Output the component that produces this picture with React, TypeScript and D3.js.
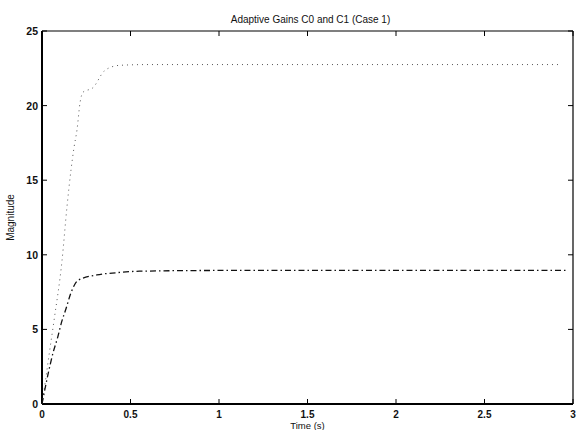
import React from "react";
import * as d3 from "d3";

const c0Time = [0, 0.02, 0.04, 0.068, 0.113, 0.141, 0.164, 0.181, 0.198, 0.215, 0.232, 0.288, 0.35, 0.395, 0.44, 0.6, 1, 1.5, 2, 2.5, 2.92];
const c0Values = [0, 1.6, 3.3, 5.6, 9.6, 13.2, 15.7, 17.2, 18.4, 20.2, 20.9, 21.2, 22.3, 22.6, 22.7, 22.75, 22.75, 22.75, 22.75, 22.75, 22.75];
const c1Time = [0, 0.036, 0.064, 0.087, 0.111, 0.136, 0.162, 0.205, 0.31, 0.42, 0.55, 1, 1.5, 2, 2.5, 2.97];
const c1Values = [0, 2.1, 3.5, 4.4, 5.5, 6.4, 7.4, 8.3, 8.65, 8.8, 8.9, 8.95, 8.95, 8.95, 8.95, 8.95];
const xTicks = [0, 0.5, 1, 1.5, 2, 2.5, 3];
const xTickLabels = ["0", "0.5", "1", "1.5", "2", "2.5", "3"];
const yTicks = [0, 5, 10, 15, 20, 25];
const yTickLabels = ["0", "5", "10", "15", "20", "25"];
const title = "Adaptive Gains C0 and C1 (Case 1)";
const xLabel = "Time (s)";
const yLabel = "Magnitude";

export default function App() {
  const W = 577, H = 430;
  const left = 42, right = 573, top = 31, bottom = 404;
  const x = d3.scaleLinear().domain([0, 3]).range([left, right]);
  const y = d3.scaleLinear().domain([0, 25]).range([bottom, top]);
  const line = d3.line<[number, number]>().x(d => x(d[0])).y(d => y(d[1])).curve(d3.curveMonotoneX);
  const c0 = c0Time.map((t, i) => [t, c0Values[i]] as [number, number]);
  const c1 = c1Time.map((t, i) => [t, c1Values[i]] as [number, number]);
  const font = "Liberation Sans, Arial, sans-serif";
  return (
    <svg width={W} height={H} style={{ position: "absolute", left: 0, top: 0, background: "#fff" }}>
      <rect x={0} y={0} width={W} height={H} fill="#fff" />
      <text x={(left + right) / 2 + 3} y={23} textAnchor="middle" fontFamily={font} fontSize={10} fill="#111">{title}</text>
      <line x1={left} y1={top} x2={left} y2={bottom} stroke="#000" strokeWidth={2} />
      <line x1={left} y1={bottom} x2={right} y2={bottom} stroke="#000" strokeWidth={2} />
      <line x1={left} y1={top} x2={right} y2={top} stroke="#000" strokeWidth={1.2} />
      <line x1={right} y1={top} x2={right} y2={bottom} stroke="#000" strokeWidth={1.2} />
      {xTicks.map((t, i) => (
        <g key={"xt" + i}>
          <line x1={x(t)} x2={x(t)} y1={bottom} y2={bottom - 5} stroke="#000" strokeWidth={1} />
          <line x1={x(t)} x2={x(t)} y1={top} y2={top + 5} stroke="#000" strokeWidth={1} />
          <text x={x(t)} y={418} textAnchor="middle" fontFamily={font} fontSize={10} fontWeight="bold" fill="#111">{xTickLabels[i]}</text>
        </g>
      ))}
      {yTicks.map((t, i) => (
        <g key={"yt" + i}>
          <line x1={left} x2={left + 5} y1={y(t)} y2={y(t)} stroke="#000" strokeWidth={1} />
          <line x1={right} x2={right - 5} y1={y(t)} y2={y(t)} stroke="#000" strokeWidth={1} />
          <text x={left - 4} y={y(t) + 4} textAnchor="end" fontFamily={font} fontSize={10.5} fontWeight="bold" fill="#111">{yTickLabels[i]}</text>
        </g>
      ))}
      <text x={(left + right) / 2} y={428.5} textAnchor="middle" fontFamily={font} fontSize={9.5} fill="#111">{xLabel}</text>
      <text transform={`translate(14, ${(top + bottom) / 2}) rotate(-90)`} textAnchor="middle" fontFamily={font} fontSize={10} fill="#111">{yLabel}</text>
      <path d={line(c0) || ""} fill="none" stroke="#555" strokeWidth={1} strokeDasharray="1,4" />
      <path d={line(c1) || ""} fill="none" stroke="#111" strokeWidth={1.3} strokeDasharray="6,3,1.5,3" />
    </svg>
  );
}
